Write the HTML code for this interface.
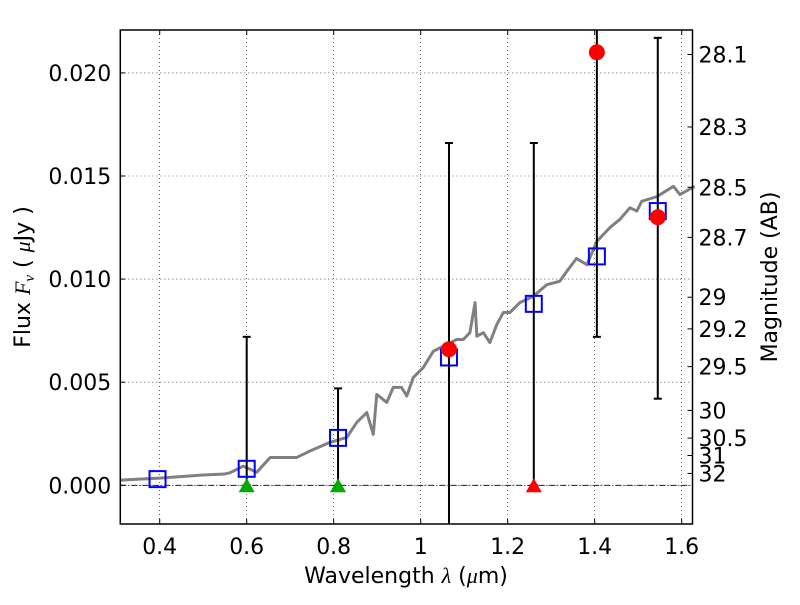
<!DOCTYPE html>
<html><head><meta charset="utf-8"><style>
body{margin:0;background:#fff;}
svg text{font-family:"DejaVu Sans","Liberation Sans",sans-serif;fill:#000;}
</style></head><body>
<svg id="chart" width="800" height="600" xmlns="http://www.w3.org/2000/svg">
<g id="grid"></g>
<g id="marks"></g>
<g id="axes"></g>
</svg>
<script>
const xTicks=[0.4,0.6,0.8,1.0,1.2,1.4,1.6];
const xTickLabels=["0.4","0.6","0.8","1","1.2","1.4","1.6"];
const yTicks=[0,0.005,0.010,0.015,0.020];
const yTickLabels=["0.000","0.005","0.010","0.015","0.020"];
const magTicks=[28.1,28.3,28.5,28.7,29,29.2,29.5,30,30.5,31,32];
const magTickLabels=["28.1","28.3","28.5","28.7","29","29.2","29.5","30","30.5","31","32"];
const sedLam=[0.31,0.4,0.5,0.55,0.562,0.592,0.623,0.654,0.715,0.745,0.791,0.83,0.853,0.876,0.891,0.899,0.922,0.937,0.956,0.968,0.983,1.006,1.029,1.083,1.098,1.113,1.125,1.129,1.144,1.159,1.175,1.19,1.205,1.228,1.259,1.29,1.32,1.336,1.358,1.382,1.405,1.435,1.458,1.481,1.497,1.508,1.543,1.581,1.596,1.63];
const sedFlux=[0.00025,0.00035,0.0005,0.00055,0.00061,0.00093,0.00063,0.00135,0.00135,0.00166,0.00208,0.00232,0.00305,0.00353,0.00247,0.00441,0.00402,0.00475,0.00475,0.00433,0.00523,0.00571,0.0065,0.00707,0.00707,0.0074,0.00886,0.00723,0.0074,0.00692,0.0078,0.00838,0.00838,0.00886,0.00917,0.00973,0.0099,0.01038,0.0110,0.0107,0.01183,0.0125,0.0129,0.01346,0.0133,0.01377,0.0140,0.0145,0.0141,0.0145];
const modelLam=[0.395,0.6,0.81,1.065,1.26,1.405,1.545];
const modelFlux=[0.0003,0.0008,0.0023,0.0062,0.0088,0.0111,0.0133];
const obsLam=[1.065,1.405,1.545];
const obsFlux=[0.0066,0.0210,0.0130];
const errLam=[0.6,0.81,1.065,1.26,1.405,1.545];
const errLo=[0,0,-0.01,0,0.0072,0.0042];
const errHi=[0.0072,0.0047,0.0166,0.0166,0.03,0.0217];
const limLam=[0.6,0.81,1.26];
const limColor=["#00aa00","#00aa00","#ff0000"];

const L=120.3,R=692.5,T=30,B=524;
const X=v=>159.7+(v-0.4)*435;
const Y=v=>485.3-v*20620;
const FS=22;
const NS="http://www.w3.org/2000/svg";
function mk(p,tag,at){const e=document.createElementNS(NS,tag);for(const k in at)e.setAttribute(k,at[k]);p.appendChild(e);return e;}
const grid=document.getElementById('grid'),marks=document.getElementById('marks'),axes=document.getElementById('axes');

xTicks.forEach((t,i)=>{
 const g=mk(grid,'line',{x1:X(t),x2:X(t),y1:T,y2:B,stroke:'#000','stroke-width':0.6,'stroke-dasharray':'1,3'});
 
 
 mk(axes,'line',{x1:X(t),x2:X(t),y1:B,y2:B-5,stroke:'#000'});
 mk(axes,'line',{x1:X(t),x2:X(t),y1:T,y2:T+5,stroke:'#000'});
 const tx=mk(axes,'text',{x:X(t),y:B+30,'font-size':FS,'text-anchor':'middle'});tx.textContent=xTickLabels[i];
 
 
});
yTicks.forEach((t,i)=>{
 const g=mk(grid,'line',{x1:L,x2:R,y1:Y(t),y2:Y(t),stroke:'#000','stroke-width':0.6,'stroke-dasharray':'1,3'});
 
 
 mk(axes,'line',{x1:L,x2:L+5,y1:Y(t),y2:Y(t),stroke:'#000'});
 const tx=mk(axes,'text',{x:L-9,y:Y(t)+8,'font-size':FS,'text-anchor':'end'});tx.textContent=yTickLabels[i];
 
 
});
magTicks.forEach((m,i)=>{
 const f=Math.pow(10,(23.9-m)/2.5);const y=Y(f);
 mk(axes,'line',{x1:R,x2:R-5,y1:y,y2:y,stroke:'#000'});
 const tx=mk(axes,'text',{x:R+6,y:y+8,'font-size':FS});tx.textContent=magTickLabels[i];
 
 
});
mk(grid,'line',{x1:L,x2:R,y1:Y(0),y2:Y(0),stroke:'#000','stroke-width':0.8,'stroke-dasharray':'6,2,1,2'});
const sed=mk(marks,'polyline',{points:sedLam.map((l,i)=>X(l)+','+Y(sedFlux[i])).join(' '),fill:'none',stroke:'#808080','stroke-width':3,'stroke-linejoin':'round'});


errLam.forEach((l,i)=>{
 const y1=Math.min(Y(errLo[i]),B),y2=Math.max(Y(errHi[i]),T);
 const e=mk(marks,'line',{x1:X(l),x2:X(l),y1:y1,y2:y2,stroke:'#000','stroke-width':2});
 
 
 if(Y(errLo[i])<B) mk(marks,'line',{x1:X(l)-4,x2:X(l)+4,y1:y1,y2:y1,stroke:'#000','stroke-width':2});
 if(Y(errHi[i])>T) mk(marks,'line',{x1:X(l)-4,x2:X(l)+4,y1:y2,y2:y2,stroke:'#000','stroke-width':2});
});
modelLam.forEach((l,i)=>{
 const r=mk(marks,'rect',{x:X(l)-8,y:Y(modelFlux[i])-8,width:16,height:16,fill:'none',stroke:'#0000ff','stroke-width':2});
 
 
});
limLam.forEach((l,i)=>{
 const x=X(l),y=Y(0);
 const p=mk(marks,'polygon',{points:`${x},${y-7} ${x-8},${y+7} ${x+8},${y+7}`,fill:limColor[i]});
 
 
});
obsLam.forEach((l,i)=>{
 const c=mk(marks,'circle',{cx:X(l),cy:Y(obsFlux[i]),r:8,fill:'#ff0000'});
 
 
});
const fr=mk(axes,'rect',{x:L,y:T,width:R-L,height:B-T,fill:'none',stroke:'#000','stroke-width':1.5});


let t=mk(axes,'text',{x:406,y:583,'font-size':FS,'text-anchor':'middle'});
t.innerHTML='Wavelength  <tspan font-style="italic" font-family="Liberation Serif">λ</tspan> (<tspan font-style="italic" font-family="Liberation Serif">μ</tspan>m)';


t=mk(axes,'text',{transform:'translate(30,277) rotate(-90)','font-size':FS,'text-anchor':'middle'});
t.innerHTML='Flux  <tspan font-style="italic" font-family="Liberation Serif">F<tspan font-size="15" dy="4">ν</tspan></tspan><tspan dy="-4">  ( </tspan><tspan font-style="italic" font-family="Liberation Serif">μ</tspan>Jy )';


t=mk(axes,'text',{transform:'translate(777,277) rotate(-90)','font-size':FS,'text-anchor':'middle'});
t.textContent='Magnitude (AB)';


</script>
</body></html>
